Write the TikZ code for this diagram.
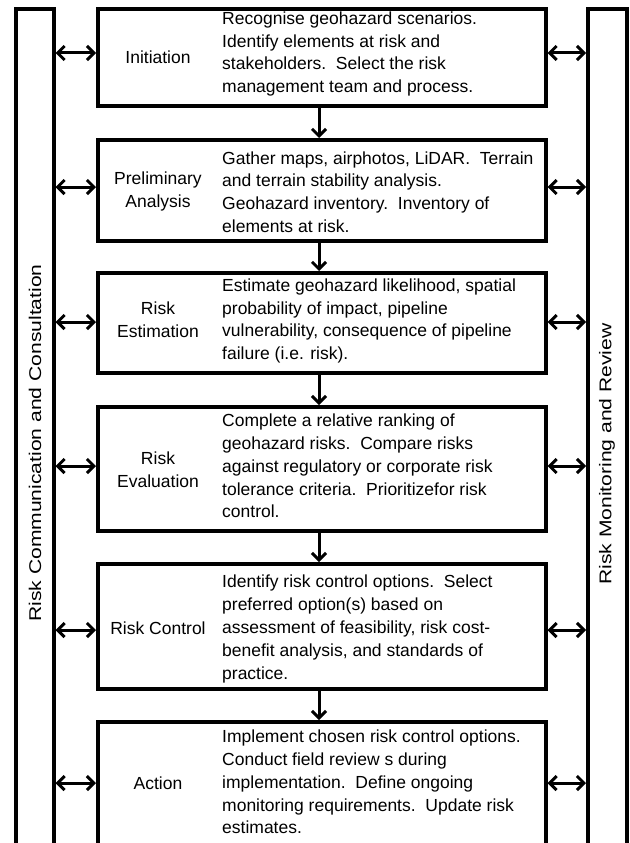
\documentclass[tikz,border=0pt]{standalone}
\usepackage{fontspec}
\setmainfont{Liberation Sans}
\usetikzlibrary{arrows.meta}
\tikzset{
  frame/.style={draw, line width=4pt, inner sep=0pt, rectangle},
  lbl/.style={align=center, font=\fontsize{17.5}{22.7}\selectfont},
  desc/.style={anchor=west, align=left, inner sep=0pt, font=\fontsize{17.5}{22.8}\selectfont},
  side/.style={rotate=90, font=\fontsize{17}{20}\selectfont},
  tipb/.tip={Straight Barb[length=7pt,width=14pt,line width=3pt]},
  dbl/.style={line width=3pt, tipb-tipb},
  down/.style={line width=3pt, -tipb}
}
\begin{document}
\begin{tikzpicture}[x=1pt,y=-1pt]
\useasboundingbox (0,0) rectangle (629,843);
% side columns (open at bottom)
\node[frame, minimum width=37.5pt, minimum height=845pt] (lc) at (34.75,431.5) {};
\node[frame, minimum width=39pt, minimum height=845pt] (rc) at (607.5,431.5) {};
\node[side] (lct) at (35,443) {\scalebox{1.24}[1]{Risk Communication and Consultation}};
\node[side] (rct) at (607,454) {\scalebox{1.24}[1]{Risk Monitoring and Review}};
% central boxes
\node[frame, minimum width=447.5pt, minimum height=97pt]  (b1) at (321.75,57.5) {};
\node[frame, minimum width=447.5pt, minimum height=101pt] (b2) at (321.75,190.5) {};
\node[frame, minimum width=447.5pt, minimum height=100pt] (b3) at (321.75,323) {};
\node[frame, minimum width=447.5pt, minimum height=124pt] (b4) at (321.75,469) {};
\node[frame, minimum width=447.5pt, minimum height=125pt] (b5) at (321.75,626.5) {};
\node[frame, minimum width=447.5pt, minimum height=130pt] (b6) at (321.75,787) {};
% labels
\node[lbl] (l1) at (158,57) {Initiation};
\node[lbl] (l2) at (158,191.5) {Preliminary\\Analysis};
\node[lbl] (l3) at (158,320) {Risk\\Estimation};
\node[lbl] (l4) at (158,470) {Risk\\Evaluation};
\node[lbl] (l5) at (158,628) {Risk Control};
\node[lbl] (l6) at (158,783) {Action};
% descriptions
\node[desc] (d1) at (222,54) {Recognise geohazard scenarios.\\Identify elements at risk and\\stakeholders.\ \ Select the risk\\management team and process.};
\node[desc] (d2) at (222,192) {Gather maps, airphotos, LiDAR.\ \ Terrain\\and terrain stability analysis.\\Geohazard inventory.\ \ Inventory of\\elements at risk.};
\node[desc] (d3) at (222,321) {Estimate geohazard likelihood, spatial\\probability of impact, pipeline\\vulnerability, consequence of pipeline\\failure (i.e. risk).};
\node[desc] (d4) at (222,466) {Complete a relative ranking of\\geohazard risks.\ \ Compare risks\\against regulatory or corporate risk\\tolerance criteria.\ \ Prioritizefor risk\\control.};
\node[desc] (d5) at (222,629) {Identify risk control options.\ \ Select\\preferred option(s) based on\\assessment of feasibility, risk cost-\\benefit analysis, and standards of\\practice.};
\node[desc] (d6) at (222,782) {Implement chosen risk control options.\\Conduct field review s during\\implementation.\ \ Define ongoing\\monitoring requirements.\ \ Update risk\\estimates.};
% vertical flow arrows
\coordinate (ax) at (319,0);
\draw[down] (b1.south -| ax) -- (b2.north -| ax);
\draw[down] (b2.south -| ax) -- (b3.north -| ax);
\draw[down] (b3.south -| ax) -- (b4.north -| ax);
\draw[down] (b4.south -| ax) -- (b5.north -| ax);
\draw[down] (b5.south -| ax) -- (b6.north -| ax);
% side arrows
\foreach \b/\yy in {b1/53,b2/187,b3/322,b4/466,b5/630,b6/783}{
  \coordinate (y\b) at (0,\yy);
  \draw[dbl] (lc.east |- y\b) -- (\b.west |- y\b);
  \draw[dbl] (\b.east |- y\b) -- (rc.west |- y\b);
}
\end{tikzpicture}
\end{document}
